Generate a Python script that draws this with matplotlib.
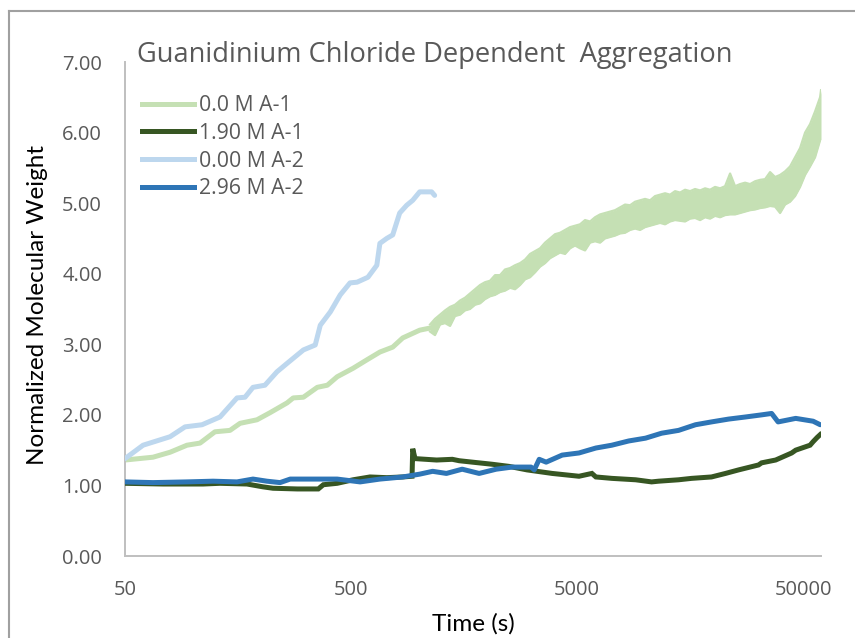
import matplotlib
matplotlib.use("Agg")
import matplotlib.pyplot as plt
from matplotlib.lines import Line2D

# ---------------- data ----------------
series_labels = ["0.0 M A-1", "1.90 M A-1", "0.00 M A-2", "2.96 M A-2"]
series_colors = ["#C5E0B4", "#375623", "#BDD7EE", "#2E75B6"]

# 0.0 M A-1 : early (thin) part
t_a1_0 = [50, 66.5, 79.1, 94.0, 107.4, 125.0, 145.7, 161.4, 191.8, 218.9, 260.7,
          277.5, 307.8, 354.5, 392.7, 434.2, 510.5, 587.9, 670.8, 764.6, 846.6,
          1006.5, 1118]
v_a1_0 = [1.36, 1.40, 1.47, 1.57, 1.60, 1.76, 1.78, 1.88, 1.93, 2.03, 2.17,
          2.24, 2.25, 2.39, 2.42, 2.54, 2.66, 2.78, 2.89, 2.96, 3.09,
          3.20, 3.23]
# 0.0 M A-1 : noisy part (lower / upper envelope of the scatter)
t_a1_0_band = [1118, 1176, 1238, 1303, 1371, 1442, 1518, 1597, 1680, 1768,
               1861, 1958, 2060, 2168, 2281, 2400, 2526, 2658, 2797, 2943,
               3097, 3259, 3429, 3608, 3797, 3995, 4204, 4424, 4655, 4898,
               5154, 5424, 5707, 6005, 6319, 6649, 6997, 7362, 7747, 8152,
               8578, 9026, 9498, 9994, 10517, 11066, 11645, 12253, 12894, 13568,
               14277, 15023, 15808, 16634, 17504, 18418, 19381, 20394, 21460, 22581,
               23762, 25003, 26310, 27685, 29132, 30655, 32257, 33943, 35717, 37583,
               39548, 41615, 43790, 46078, 48486, 51020, 53687, 56493, 59445, 60000]
lo_a1_0 = [3.18, 3.13, 3.28, 3.30, 3.26, 3.40, 3.42, 3.48, 3.50, 3.56,
           3.58, 3.64, 3.68, 3.70, 3.74, 3.76, 3.80, 3.78, 3.84, 3.92,
           3.95, 4.02, 4.10, 4.15, 4.22, 4.26, 4.30, 4.28, 4.36, 4.40,
           4.36, 4.33, 4.44, 4.46, 4.44, 4.50, 4.52, 4.54, 4.57, 4.58,
           4.62, 4.64, 4.62, 4.66, 4.68, 4.70, 4.72, 4.70, 4.74, 4.76,
           4.75, 4.74, 4.78, 4.79, 4.76, 4.80, 4.78, 4.82, 4.80, 4.83,
           4.84, 4.84, 4.86, 4.88, 4.90, 4.91, 4.93, 4.94, 4.96, 4.95,
           4.86, 4.98, 5.02, 5.10, 5.23, 5.40, 5.52, 5.65, 5.89, 5.90]
hi_a1_0 = [3.28, 3.36, 3.42, 3.48, 3.53, 3.56, 3.62, 3.66, 3.72, 3.78,
           3.84, 3.88, 3.90, 3.98, 3.98, 4.06, 4.08, 4.12, 4.15, 4.20,
           4.28, 4.32, 4.36, 4.44, 4.50, 4.56, 4.58, 4.62, 4.66, 4.68,
           4.70, 4.76, 4.74, 4.80, 4.84, 4.86, 4.88, 4.90, 4.94, 4.98,
           4.97, 5.02, 5.04, 5.06, 5.04, 5.10, 5.12, 5.14, 5.12, 5.17,
           5.15, 5.19, 5.17, 5.20, 5.18, 5.21, 5.19, 5.23, 5.21, 5.24,
           5.42, 5.24, 5.27, 5.29, 5.27, 5.31, 5.33, 5.34, 5.44, 5.37,
           5.40, 5.45, 5.52, 5.65, 5.78, 6.00, 6.12, 6.30, 6.50, 6.60]

# 1.90 M A-1
t_a1_190 = [50, 73.6, 110.7, 131.6, 173.3, 203.9, 225.8, 289.2, 358.1, 377.1,
            434.2, 510.5, 606.3, 719.3, 846.6, 931, 937.2, 960, 1196, 1403,
            1505, 1719, 2106, 2500, 3004, 3879, 5099, 5815, 6055, 7123,
            9080, 10682, 11470, 14060, 16046, 19663, 22678, 25914, 31760, 32760,
            37800, 44510, 46380, 53680, 55370, 57700, 59520]
v_a1_190 = [1.03, 1.02, 1.02, 1.03, 1.02, 0.98, 0.96, 0.95, 0.95, 1.01,
            1.03, 1.08, 1.12, 1.11, 1.12, 1.13, 1.52, 1.38, 1.36, 1.37,
            1.35, 1.33, 1.30, 1.27, 1.22, 1.17, 1.13, 1.17, 1.12, 1.10,
            1.08, 1.05, 1.06, 1.08, 1.10, 1.12, 1.17, 1.22, 1.29, 1.32,
            1.36, 1.46, 1.50, 1.57, 1.62, 1.68, 1.72]

# 0.00 M A-2
t_a2_0 = [50, 60.1, 79.1, 92.2, 109.6, 131.6, 156.5, 169.8, 184.2, 208.0,
          235.1, 260.7, 307.8, 347.2, 365.5, 405.1, 447.9, 494.9, 531.6, 593.9,
          650.2, 670.8, 719.3, 764.6, 820.6, 881.6, 937.2, 1006.5, 1136.5, 1171.7]
v_a2_0 = [1.38, 1.57, 1.69, 1.83, 1.86, 1.97, 2.24, 2.25, 2.39, 2.42,
          2.61, 2.73, 2.92, 2.99, 3.27, 3.46, 3.70, 3.87, 3.88, 3.95,
          4.12, 4.43, 4.50, 4.55, 4.86, 4.97, 5.04, 5.16, 5.16, 5.11]

# 2.96 M A-2
t_a2_296 = [50, 66.5, 94.0, 122.6, 156.5, 184.2, 212.2, 242.6, 269.1, 365.5,
            434.2, 548.4, 670.8, 846.6, 1006.5, 1148, 1321, 1551, 1844, 2193,
            2579, 3128, 3232, 3400, 3649, 4296, 5099, 6055, 7123, 8461,
            10050, 11832, 14060, 16714, 19663, 23394, 27820, 32760, 36280, 38750,
            46380, 55370, 59520]
v_a2_296 = [1.05, 1.04, 1.05, 1.06, 1.05, 1.09, 1.06, 1.04, 1.09, 1.09,
            1.09, 1.05, 1.09, 1.12, 1.16, 1.20, 1.17, 1.23, 1.17, 1.23,
            1.26, 1.26, 1.22, 1.37, 1.33, 1.43, 1.46, 1.53, 1.57, 1.63,
            1.67, 1.74, 1.78, 1.86, 1.90, 1.94, 1.97, 2.00, 2.02, 1.90,
            1.95, 1.91, 1.86]

x_ticks = [50, 500, 5000, 50000]
x_tick_labels = ["50", "500", "5000", "50000"]
y_ticks = [0, 1, 2, 3, 4, 5, 6, 7]
title_text = "Guanidinium Chloride Dependent  Aggregation"
x_label = "Time (s)"
y_label = "Normalized Molecular Weight"

# ---------------- figure ----------------
W, H = 855, 638
fig = plt.figure(figsize=(W / 100, H / 100), dpi=100)
fig.patch.set_facecolor("white")

L, R, T, B = 125, 821, 62, 556
ax = fig.add_axes([L / W, 1 - B / H, (R - L) / W, (B - T) / H])

lw = 3.6
ax.plot(t_a1_0, v_a1_0, color=series_colors[0], lw=lw,
        solid_capstyle="round", solid_joinstyle="round", zorder=2)
ax.fill_between(t_a1_0_band, lo_a1_0, hi_a1_0, color=series_colors[0], lw=0, zorder=2)
ax.plot(t_a1_0_band, lo_a1_0, color=series_colors[0], lw=1.6, zorder=2)
ax.plot(t_a1_0_band, hi_a1_0, color=series_colors[0], lw=1.6, zorder=2)
ax.plot(t_a1_190, v_a1_190, color=series_colors[1], lw=lw,
        solid_joinstyle="miter", zorder=3)
ax.plot(t_a2_0, v_a2_0, color=series_colors[2], lw=lw,
        solid_capstyle="round", solid_joinstyle="round", zorder=4)
ax.plot(t_a2_296, v_a2_296, color=series_colors[3], lw=lw,
        solid_capstyle="round", solid_joinstyle="round", zorder=5)

ax.set_xscale("log")
ax.set_xlim(50, 60000)
ax.set_ylim(0, 7)
ax.set_xticks(x_ticks)
ax.set_xticklabels(x_tick_labels)
ax.xaxis.set_minor_locator(matplotlib.ticker.NullLocator())
ax.set_yticks(y_ticks)
ax.set_yticklabels([f"{v:.2f}" for v in y_ticks])

for lab in ax.get_xticklabels() + ax.get_yticklabels():
    lab.set_fontfamily("Open Sans")
    lab.set_fontsize(14.5)
    lab.set_color("#595959")
ax.tick_params(axis="both", length=0)
ax.tick_params(axis="y", pad=16.5)
ax.tick_params(axis="x", pad=17)

for s in ["top", "right"]:
    ax.spines[s].set_visible(False)
for s in ["left", "bottom"]:
    ax.spines[s].set_color("#BFBFBF")
    ax.spines[s].set_linewidth(1.4)

# axis titles
fig.text(473 / W, 1 - 624 / H, x_label, ha="center", va="center",
         fontsize=17.5, family="Lato", color="black")
fig.text(38 / W, 1 - 305 / H, y_label, ha="center", va="center", rotation=90,
         fontsize=17.5, family="Lato", color="black")

# chart title (inside plot area)
fig.text(137 / W, 1 - 62 / H, title_text, ha="left", va="baseline",
         fontsize=19.6, family="Open Sans", color="#595959")

# legend
handles = [Line2D([0], [0], color=c, lw=3.6) for c in series_colors]
leg = ax.legend(handles, series_labels, loc="upper left",
                bbox_to_anchor=((142 - L) / (R - L), (B - 95) / (B - T)),
                frameon=False, prop={"family": "Open Sans", "size": 15.3},
                handlelength=2.45, handletextpad=0.25, labelspacing=0.32,
                borderaxespad=0, borderpad=0)
for t in leg.get_texts():
    t.set_color("#595959")

# outer chart border (top and left visible)
fig.add_artist(Line2D([9 / W, 1], [1 - 11 / H, 1 - 11 / H], color="#A0A0A0", lw=1.5))
fig.add_artist(Line2D([9 / W, 9 / W], [0, 1 - 11 / H], color="#A0A0A0", lw=1.5))

fig.savefig("out.png", dpi=100, facecolor="white")
